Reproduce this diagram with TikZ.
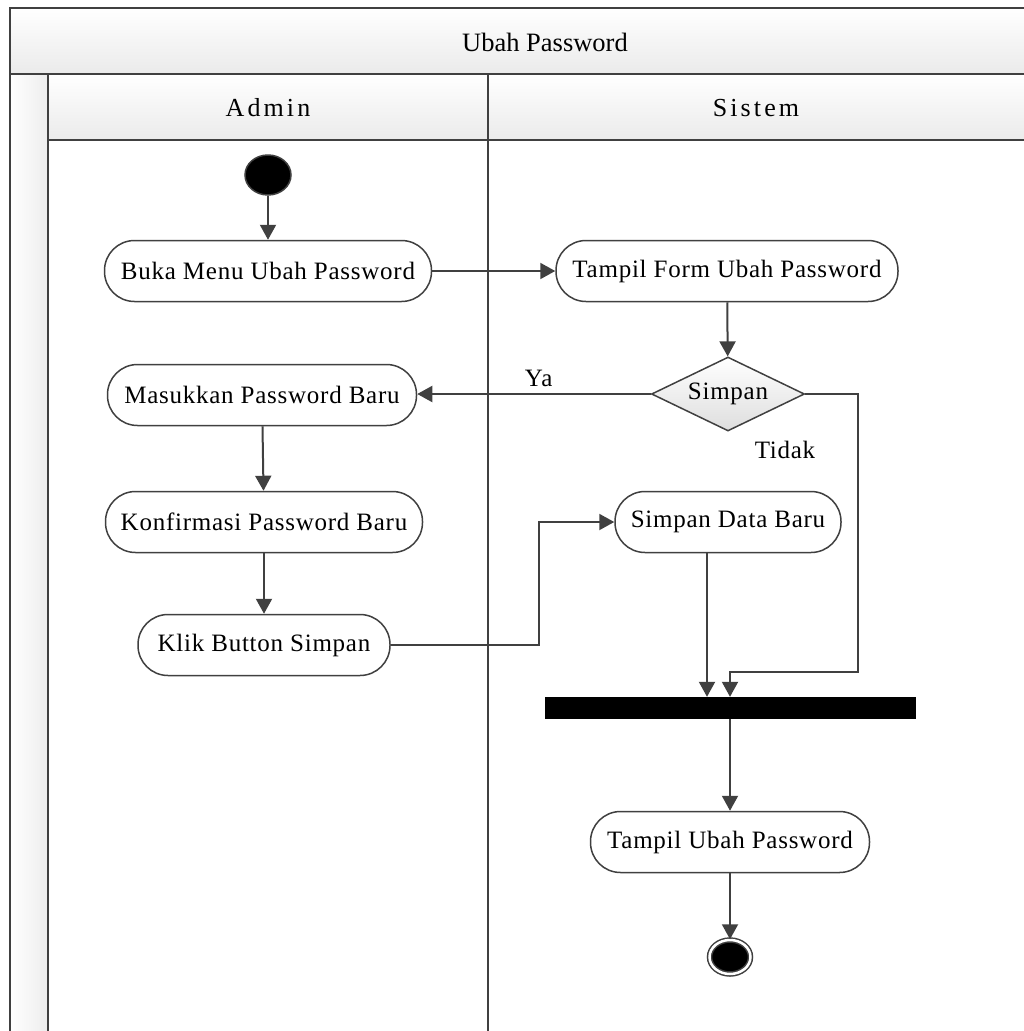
\documentclass[tikz,border=0pt]{standalone}
\usepackage{fontspec}
\setmainfont{Liberation Serif}
\newfontfamily\actfont[LetterSpace=3]{Liberation Serif}
\newfontfamily\lanefont[LetterSpace=12]{Liberation Serif}
\usetikzlibrary{arrows.meta,shapes.geometric}
\definecolor{linegray}{HTML}{404040}
\begin{document}
\begin{tikzpicture}[x=1pt, y=-1pt,
  lane/.style={draw=linegray, line width=2pt},
  act/.style={draw=linegray, line width=1.5pt, fill=white, rounded corners=30pt, minimum height=61pt, inner sep=0pt, font={\actfont\fontsize{25}{28}\selectfont}},
  flow/.style={draw=linegray, line width=2pt, -{Triangle[length=15pt,width=16pt]}},
  lbl/.style={font={\actfont\fontsize{25}{28}\selectfont}}]
\useasboundingbox (0,0) rectangle (1024,1031);
% pool and lanes
\fill[top color=white, bottom color=black!8] (10,8) rectangle (1024,74);
\fill[top color=white, bottom color=black!8] (48,74) rectangle (1024,140);
\fill[left color=white, right color=black!7] (10,74) rectangle (48,1031);
\draw[lane] (1024,8) -- (10,8) -- (10,1031);
\draw[lane] (10,74) -- (1024,74);
\draw[lane] (48,74) -- (48,1031);
\draw[lane] (48,140) -- (1024,140);
\draw[lane] (488,74) -- (488,1031);
\node[font={\fontsize{26.5}{30}\selectfont}] (pool) at (545,42){Ubah Password};
\node[font={\lanefont\fontsize{26}{30}\selectfont}] (lane1) at (268,108){Admin};
\node[font={\lanefont\fontsize{26}{30}\selectfont}] (lane2) at (756,108){Sistem};
% nodes
\node[ellipse, draw=linegray, line width=1.5pt, fill=black, minimum width=46pt, minimum height=40pt] (init) at (268,175){};
\node[act, minimum width=327pt] (act1) at (268,271){Buka Menu Ubah Password};
\node[act, minimum width=342pt] (act2) at (727,271){Tampil Form Ubah Password};
\node[diamond, aspect=2.07, draw=linegray, line width=1.5pt, top color=white, bottom color=black!13, minimum width=153pt, minimum height=74pt, inner sep=0pt, lbl] (dec1) at (728,394){Simpan};
\node[act, minimum width=309pt] (act3) at (262,395){Masukkan Password Baru};
\node[act, minimum width=317pt] (act4) at (264,522){Konfirmasi Password Baru};
\node[act, minimum width=252pt] (act5) at (264,645){Klik Button Simpan};
\node[act, minimum width=226pt] (act6) at (728,522){Simpan Data Baru};
\node[rectangle, fill=black, minimum width=371pt, minimum height=22pt, inner sep=0pt] (fork1) at (730,708){};
\node[act, minimum width=279pt] (act7) at (730,842){Tampil Ubah Password};
\node[ellipse, draw=linegray, line width=1.5pt, double=white, double distance=2.5pt, fill=black, minimum width=41pt, minimum height=34pt] (final) at (730,957){};
\coordinate (c1) at (858,672);
\coordinate (c2) at (539,645);
% edges
\draw[flow](init) -- (act1);
\draw[flow](act1) -- (act2);
\draw[flow](act2) -- (dec1);
\draw[flow](dec1.west) -- (dec1.west -| act3.east) node[lbl, pos=0.48, above=3pt]{Ya};
\draw[flow](dec1.east) -| (c1) -| (fork1.north);
\node[lbl] (tidak) at (785,450){Tidak};
\draw[flow](act3) -- (act4);
\draw[flow](act4) -- (act5);
\draw[flow](act5.east) -- (c2) |- (act6.west);
\draw[flow]([xshift=-21pt]act6.south) -- ([xshift=-21pt]act6.south |- fork1.north);
\draw[flow](fork1) -- (act7);
\draw[flow](act7) -- (final);
\end{tikzpicture}
\end{document}
